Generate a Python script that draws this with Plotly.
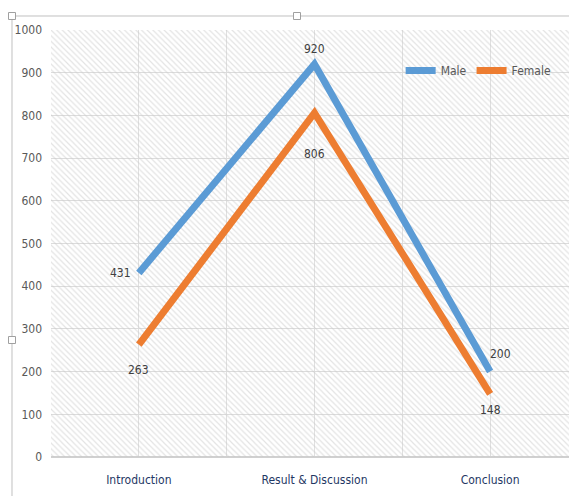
import plotly.graph_objects as go

categories = ["Introduction", "Result & Discussion", "Conclusion"]
male = [431, 920, 200]
female = [263, 806, 148]
y_ticks = [0, 100, 200, 300, 400, 500, 600, 700, 800, 900, 1000]

FONT = "Liberation Sans Narrow, Arial Narrow, DejaVu Sans Condensed, sans-serif"
BLUE = "#5B9BD5"
ORANGE = "#ED7D31"
xs = list(range(len(categories)))

fig = go.Figure()

# hatched plot background
fig.add_trace(go.Bar(
    x=[0.975], y=[1000], width=[2.95],
    marker=dict(color="rgba(255,255,255,0)", line=dict(width=0),
                pattern=dict(shape="\\", fgcolor="#c8c8c8", bgcolor="rgba(255,255,255,0)",
                             size=4, solidity=0.3)),
    showlegend=False, hoverinfo="skip"))

fig.add_trace(go.Scatter(x=xs, y=male, mode="lines", name="Male",
                         line=dict(color=BLUE, width=7)))
fig.add_trace(go.Scatter(x=xs, y=female, mode="lines", name="Female",
                         line=dict(color=ORANGE, width=7)))

# data labels
offsets_m = [(-18, 0), (0, 15), (10, 18)]
offsets_f = [(0, -25), (0, -41), (0, -16)]
for vals, offs in ((male, offsets_m), (female, offsets_f)):
    for x, v, (dx, dy) in zip(xs, vals, offs):
        fig.add_annotation(x=x, y=v, text=str(v), showarrow=False,
                           xshift=dx, yshift=dy,
                           font=dict(family=FONT, size=12, color="#404040"))

# outer chart frame + handles
fig.add_shape(type="line", xref="paper", yref="paper", x0=-0.0753, x1=1.05, y0=1.0328, y1=1.0328,
              line=dict(color="#c0c0c0", width=1))
fig.add_shape(type="line", xref="paper", yref="paper", x0=-0.0753, x1=-0.0753, y0=1.0328, y1=-0.1,
              line=dict(color="#c0c0c0", width=1))
for hx, hy in [(12, 16), (297, 16), (12, 340)]:
    px = (hx - 51) / 518
    py = (457 - hy) / 427
    fig.add_shape(type="rect", xref="paper", yref="paper",
                  x0=px - 3.5 / 518, x1=px + 3.5 / 518, y0=py - 3.5 / 427, y1=py + 3.5 / 427,
                  line=dict(color="#a0a0a0", width=1), fillcolor="white")

fig.update_layout(
    width=569, height=496,
    margin=dict(l=51, r=0, t=30, b=39),
    paper_bgcolor="white", plot_bgcolor="white",
    font=dict(family=FONT, size=12, color="#595959"),
    showlegend=True,
    legend=dict(orientation="h", x=0.675, y=0.905, xanchor="left", yanchor="middle",
                bgcolor="rgba(0,0,0,0)", font=dict(family=FONT, size=12, color="#595959"),
                itemwidth=30, tracegroupgap=0),
    bargap=0,
)
fig.update_xaxes(range=[-0.5, 2.449], tickmode="array", tickvals=xs, ticktext=categories,
                 tickfont=dict(family=FONT, size=12, color="#1F3864"),
                 showgrid=True, gridcolor="#e0e0e0", gridwidth=1,
                 minor=dict(tickvals=[0.5, 1.5], showgrid=True, gridcolor="#e0e0e0"),
                 showline=False, zeroline=False, ticks="", ticklabelstandoff=14)
fig.update_yaxes(range=[0, 1000], tickmode="array", tickvals=y_ticks,
                 tickfont=dict(family=FONT, size=12, color="#595959"),
                 showgrid=True, gridcolor="#dcdcdc", gridwidth=1,
                 zeroline=True, zerolinecolor="#d0d0d0", zerolinewidth=2,
                 showline=False, ticks="", ticklabelstandoff=8)

fig.write_html("out.html")
